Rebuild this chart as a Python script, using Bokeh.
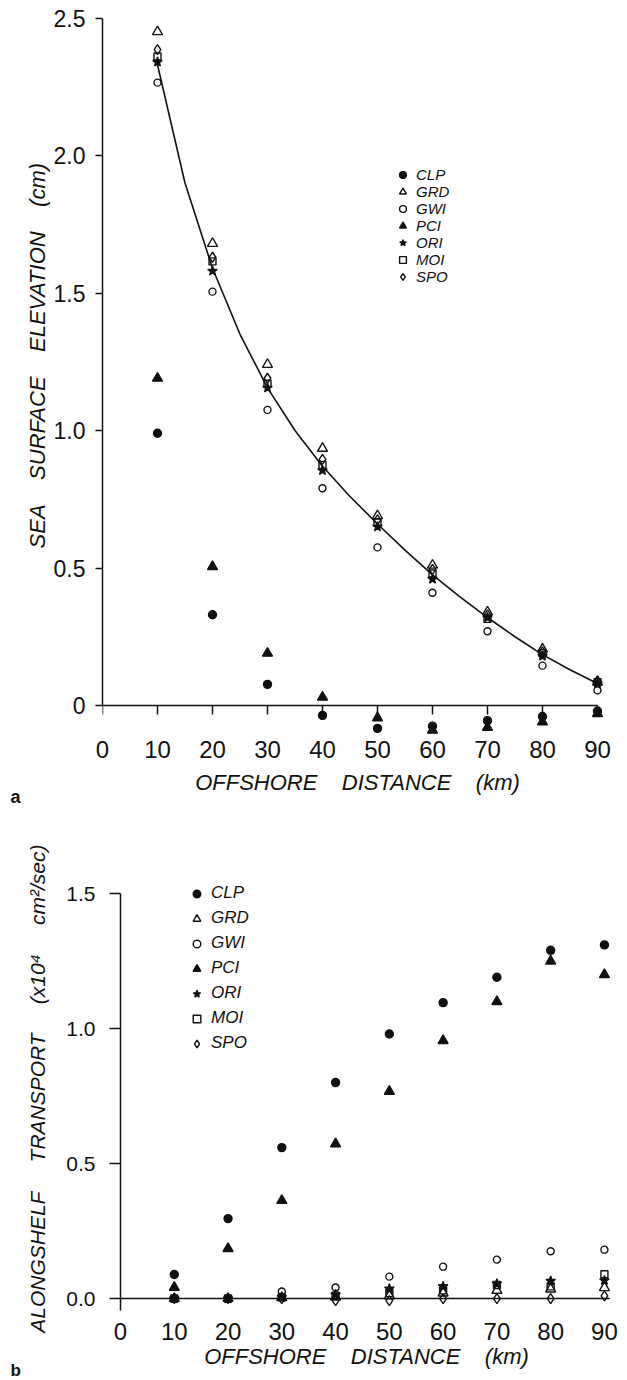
from bokeh.plotting import figure
from bokeh.models import Range1d, FixedTicker, Legend, LegendItem, Title
from bokeh.embed import file_html
from bokeh.resources import INLINE

# ---------------- data ----------------
DIST = [10, 20, 30, 40, 50, 60, 70, 80, 90]
XTICKS = [0, 10, 20, 30, 40, 50, 60, 70, 80, 90]
XLABELS = ["0", "10", "20", "30", "40", "50", "60", "70", "80", "90"]

SERIES = ["CLP", "GRD", "GWI", "PCI", "ORI", "MOI", "SPO"]

# (a) sea surface elevation (cm)
CLP_A = [0.99, 0.33, 0.077, -0.036, -0.083, -0.075, -0.055, -0.04, -0.02]
GRD_A = [2.45, 1.68, 1.24, 0.935, 0.69, 0.51, 0.34, 0.205, 0.085]
GWI_A = [2.265, 1.505, 1.075, 0.79, 0.575, 0.41, 0.27, 0.145, 0.055]
PCI_A = [1.19, 0.505, 0.19, 0.03, -0.045, -0.09, -0.08, -0.06, -0.03]
ORI_A = [2.34, 1.58, 1.155, 0.855, 0.65, 0.46, 0.32, 0.18, 0.08]
MOI_A = [2.36, 1.615, 1.17, 0.875, 0.665, 0.48, 0.315, 0.19, 0.085]
SPO_A = [2.385, 1.63, 1.19, 0.895, 0.675, 0.495, 0.33, 0.195, 0.09]
CURVE_X = [10, 15, 20, 25, 30, 35, 40, 45, 50, 55, 60, 65, 70, 75, 80, 85, 90]
CURVE_Y = [2.33, 1.90, 1.59, 1.35, 1.155, 1.00, 0.87, 0.76, 0.66, 0.565,
           0.475, 0.395, 0.32, 0.25, 0.185, 0.13, 0.08]
YTICKS_A = [0, 0.5, 1.0, 1.5, 2.0, 2.5]
YLABELS_A = ["0", "0.5", "1.0", "1.5", "2.0", "2.5"]

# (b) alongshelf transport (x10^4 cm^2/sec)
CLP_B = [0.089, 0.296, 0.559, 0.80, 0.98, 1.096, 1.19, 1.29, 1.31]
GRD_B = [0.0, 0.0, 0.003, 0.005, 0.01, 0.02, 0.03, 0.035, 0.04]
GWI_B = [0.0, 0.0, 0.026, 0.041, 0.081, 0.118, 0.144, 0.175, 0.181]
PCI_B = [0.041, 0.185, 0.363, 0.573, 0.767, 0.955, 1.10, 1.25, 1.20]
ORI_B = [0.0, 0.0, 0.005, 0.015, 0.036, 0.045, 0.055, 0.065, 0.067]
MOI_B = [0.0, 0.0, 0.005, 0.01, 0.02, 0.03, 0.05, 0.045, 0.09]
SPO_B = [0.0, 0.0, 0.0, -0.008, -0.008, 0.0, 0.0, 0.0, 0.01]
YTICKS_B = [0.0, 0.5, 1.0, 1.5]
YLABELS_B = ["0.0", "0.5", "1.0", "1.5"]

DATA_A = dict(CLP=CLP_A, GRD=GRD_A, GWI=GWI_A, PCI=PCI_A, ORI=ORI_A, MOI=MOI_A, SPO=SPO_A)
DATA_B = dict(CLP=CLP_B, GRD=GRD_B, GWI=GWI_B, PCI=PCI_B, ORI=ORI_B, MOI=MOI_B, SPO=SPO_B)

TITLE_A_Y = "SEA SURFACE ELEVATION (cm)"
TITLE_B_Y = "ALONGSHELF TRANSPORT (x10\u2074 cm\u00b2/sec)"
TITLE_X = "OFFSHORE DISTANCE (km)"

# ---------------- styles ----------------
INK = "#111111"
FONT = "Liberation Sans"
STYLE = {
    "CLP": dict(marker="circle", size=8, fill=True),
    "GRD": dict(marker="triangle", size=10, fill=False),
    "GWI": dict(marker="circle", size=7, fill=False),
    "PCI": dict(marker="triangle", size=10, fill=True),
    "ORI": dict(marker="star", size=10, fill=True),
    "MOI": dict(marker="square", size=7, fill=False),
    "SPO": dict(marker="diamond", size=10, fill=False),
}


def spaced(text, n):
    gap = "\u00a0" * (n - 1) + " "
    return gap.join(text.split(" "))


def base_fig(width, height, xr, yr, bl, br, bt, bb):
    p = figure(width=width, height=height, x_range=Range1d(*xr), y_range=Range1d(*yr),
               output_backend="svg", toolbar_location=None,
               min_border_left=bl, min_border_right=br, min_border_top=bt, min_border_bottom=bb)
    p.grid.visible = False
    p.outline_line_color = None
    p.background_fill_color = "white"
    p.border_fill_color = "white"
    return p


def style_axes(p, yticks, ylabels, ybounds, ylab_size, ytick_out, ystand, xstand,
               ytitle, ytitle_size, ytitle_stand, xtitle_stand):
    ya = p.yaxis[0]
    ya.ticker = FixedTicker(ticks=yticks)
    ya.major_label_overrides = {t: l for t, l in zip(yticks, ylabels)}
    ya.bounds = ybounds
    ya.axis_line_color = INK
    ya.axis_line_width = 1.5
    ya.major_tick_line_color = INK
    ya.major_tick_line_width = 1.5
    ya.major_tick_out = ytick_out
    ya.major_tick_in = 0
    ya.minor_tick_line_color = None
    ya.major_label_standoff = ystand
    ya.major_label_text_font = FONT
    ya.major_label_text_font_size = ylab_size
    ya.major_label_text_color = INK
    ya.axis_label = ytitle
    ya.axis_label_text_font = FONT
    ya.axis_label_text_font_style = "italic"
    ya.axis_label_text_font_size = ytitle_size
    ya.axis_label_text_color = INK
    ya.axis_label_standoff = ytitle_stand

    xa = p.xaxis[0]
    xa.ticker = FixedTicker(ticks=XTICKS)
    xa.major_label_overrides = {t: l for t, l in zip(XTICKS, XLABELS)}
    xa.axis_line_color = None
    xa.major_tick_line_color = None
    xa.minor_tick_line_color = None
    xa.major_label_standoff = xstand
    xa.major_label_text_font = FONT
    xa.major_label_text_font_size = "24px"
    xa.major_label_text_color = INK
    xa.axis_label = spaced(TITLE_X, 4)
    xa.axis_label_text_font = FONT
    xa.axis_label_text_font_style = "italic"
    xa.axis_label_text_font_size = "22px"
    xa.axis_label_text_color = INK
    xa.axis_label_standoff = xtitle_stand


def add_series(p, data):
    rends = {}
    for name in SERIES:
        st = STYLE[name]
        r = p.scatter(DIST, data[name], marker=st["marker"], size=st["size"],
                      line_color=INK, line_width=1.4,
                      fill_color=INK if st["fill"] else "white",
                      fill_alpha=1.0 if st["fill"] else 0.0)
        rends[name] = r
    return rends


def add_legend(p, rends, loc, font_size, glyph, spacing, standoff):
    items = [LegendItem(label=n, renderers=[rends[n]]) for n in SERIES]
    lg = Legend(items=items, location=loc, orientation="vertical")
    lg.padding = 0
    lg.margin = 0
    lg.spacing = spacing
    lg.glyph_width = glyph
    lg.glyph_height = glyph
    lg.label_height = glyph
    lg.label_standoff = standoff
    lg.label_text_font = FONT
    lg.label_text_font_style = "italic"
    lg.label_text_font_size = font_size
    lg.label_text_color = INK
    lg.background_fill_alpha = 0
    lg.border_line_alpha = 0
    p.add_layout(lg)


def add_panel_letter(p, letter, offset, standoff, size):
    p.add_layout(Title(text=letter, align="left", vertical_align="top", offset=offset,
                       standoff=standoff, text_font=FONT, text_font_style="bold",
                       text_font_size=size, text_color=INK), "below")


W = 622

# ---------------- panel a ----------------
p1 = base_fig(W, 810, (0, 92.73), (-0.109, 2.52), 102, 10, 12, 75)
style_axes(p1, YTICKS_A, YLABELS_A, (0, 2.5), "23px", 7, 10, -1,
           "\u00a0" * 6 + spaced(TITLE_A_Y, 4), "22px", 1, 9)
TICK_A = 0.033
p1.line([XTICKS[0], XTICKS[-1]], [0, 0], line_color=INK, line_width=1.5)
p1.segment(x0=XTICKS, y0=[0] * len(XTICKS), x1=XTICKS, y1=[-TICK_A] * len(XTICKS),
           line_color=INK, line_width=1.5)
p1.line(CURVE_X, CURVE_Y, line_color=INK, line_width=1.6)
r1 = add_series(p1, DATA_A)
add_legend(p1, r1, (292, 450), "15px", 17, 0, 5)
add_panel_letter(p1, "a", -92, -22, "18px")

# ---------------- panel b ----------------
p2 = base_fig(W, 570, (0, 91.5), (-0.0444, 1.556), 120, 10, 68, 70)
style_axes(p2, YTICKS_B, YLABELS_B, (-0.0444, 1.5), "21px", 11, 14, 6,
           "\u00a0" * 2 + spaced(TITLE_B_Y, 5), "21px", 14, 1)
p2.line([XTICKS[0], 91], [0, 0], line_color=INK, line_width=1.5)
r2 = add_series(p2, DATA_B)
add_legend(p2, r2, (67, 257), "17px", 19, 5, 5)
add_panel_letter(p2, "b", -110, -21, "17px")

open("out.html", "w").write(file_html([p1, p2], INLINE))
